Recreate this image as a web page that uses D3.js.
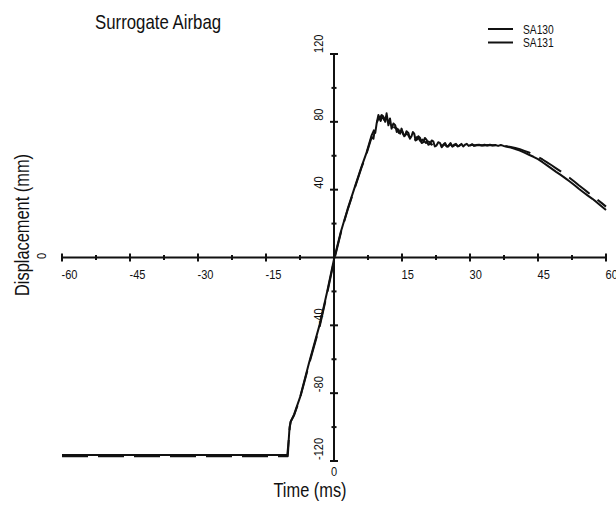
<!DOCTYPE html>
<html>
<head>
<meta charset="utf-8">
<script src="https://cdn.jsdelivr.net/npm/d3@7"></script>
<style>
  body { margin: 0; background: white; }
  text { font-family: "Liberation Sans", Arial, sans-serif; fill: #111; }
</style>
</head>
<body>
<div id="chart-area"></div>
<script>
// *********************
// Data
// *********************

const seriesNames = ["SA130", "SA131"];

// SA130: [time (ms), displacement (mm)]
const sa130 = [
	[-60,-116.5],[-10.3,-116.5],[-10.0,-108],[-9.8,-100],[-9.5,-96.5],[-8.8,-92.5],[-7.5,-82.5],
	[-5.5,-62],[-3.1,-39],[-1.5,-20],[0,-1],[1.5,15],[3,28.5],[4.4,40],[6,53],[7.2,62],[8.3,72],
	[8.8,75],[9.1,73.5],[9.4,79],[9.8,84],[10.1,82],[10.5,84],[10.9,83],[11.3,80],[11.6,85],[12.0,78],
	[12.35,82],[12.7,76],[13.1,79],[13.5,78],[13.85,74],[14.2,75.5],[14.6,73],[14.9,76],[15.3,72.5],
	[15.7,72],[16.0,74.5],[16.4,73.5],[16.75,70],[17.1,71.5],[17.4,74],[17.7,73],[18.0,69],[18.3,69.5],
	[18.6,71.5],[19.0,70.5],[19.35,67.5],[19.7,68],[20.05,70.5],[20.4,69.5],[20.8,66.5],[21.2,67],
	[21.55,69],[21.9,68.5],[22.25,65.5],[22.6,66],[23.0,68],[23.4,67.5],[23.75,65],[24.1,66.5],
	[24.5,67.5],[24.9,65.5],[25.3,66],[25.7,67.5],[26.1,65.5],[26.5,66.5],[26.9,67],[27.3,65.5],
	[27.7,66],[28.1,67],[28.5,65.5],[28.9,66.5],[29.3,67],[29.7,65.8],[30.1,66.3],[30.5,66.8],
	[30.9,65.8],[31.3,66.3],[32,66.5],[32.6,66],[33.2,66.5],[33.8,66],[34.4,66.5],[35,66],[35.6,66.3],
	[36.2,65.8],[36.8,66.3],[37.4,65.8],[38,65.5],[39,64.8],[40,64],[41,63],[42,61.8],[43,60.6],
	[44,59.4],[45,58],[46,56.2],[47,54.3],[48,52.4],[49,50.5],[50,48.7],[51,46.8],[52,44.8],[53,42.7],
	[54,40.5],[55,38.5],[56,36.5],[57,34.6],[58,32.5],[59,30.2],[60,28]
];

// SA131: [time (ms), displacement (mm)]
const sa131 = [
	[-60,-117.2],[-10.2,-117.2],[-9.9,-104],[-9.6,-97],[-8.8,-93],[-7.5,-83],[-5.5,-63],[-3.1,-40],
	[-1.5,-21],[0,-2],[1.5,14.5],[3,28],[4.4,39.5],[6,52.5],[7.2,61.5],[8.3,71],[8.7,70],[9.0,75.5],
	[9.5,80],[9.9,82.5],[10.3,80.5],[10.7,83.5],[11.1,81],[11.5,83],[11.9,80],[12.3,79.5],[12.7,78],
	[13.1,77],[13.5,76.5],[13.9,76],[14.3,73.5],[14.7,74.5],[15.1,74],[15.5,71.5],[15.9,73],[16.3,72.5],
	[16.7,70.5],[17.1,72.5],[17.5,71],[17.9,69.5],[18.3,71],[18.7,70],[19.1,68.5],[19.5,69.5],
	[19.9,68.5],[20.3,67.5],[20.7,68.5],[21.1,68],[21.5,66.5],[21.9,67.5],[22.3,67],[22.7,66],[23.1,67],
	[23.5,66.5],[23.9,65.5],[24.3,66.8],[24.7,66],[25.1,65.3],[25.6,66.8],[26.2,65.5],[26.8,66.5],
	[27.4,65.6],[28,66.6],[28.6,65.8],[29.2,66.6],[29.8,65.9],[30.5,66.5],[31.2,66],[32,66.4],[33,66.1],
	[34,66.4],[35,66.2],[36,66.1],[37,65.9],[38,65.6],[39,65.1],[40,64.6],[41,63.9],[42,62.9],[43,61.9],
	[44,60.7],[45,59.3],[46,57.8],[47,56.1],[48,54.4],[49,52.6],[50,50.8],[51,48.9],[52,46.9],[53,44.8],
	[54,42.6],[55,40.5],[56,38.4],[57,36.4],[58,34.3],[59,32.2],[60,30]
];

// Tick values
const xMajor = [-60, -45, -30, -15, 15, 30, 45, 60];
const xMinor = [-52.5, -37.5, -22.5, -7.5, 7.5, 22.5, 37.5, 52.5];
const yMajor = [-120, -80, -40, 40, 80, 120];
const yMinor = [-100, -60, -20, 20, 60, 100];

// *********************
// Basic setup SVG
// *********************

const width = 616;
const height = 508;

// Narrow look of the original font
const narrow = 0.82;

const svg = d3.select("#chart-area")
	.append("svg")
	.attr("width", width)
	.attr("height", height);

svg.append("rect")
	.attr("width", "100%")
	.attr("height", "100%")
	.attr("fill", "white");

// Helper for condensed text at (tx, ty), optionally rotated
function place(tx, ty, rot) {
	return "translate(" + tx + "," + ty + ")" + (rot ? " rotate(" + rot + ")" : "") + " scale(" + narrow + ",1)";
}

// *********************
// Scales
// *********************

const x = d3.scaleLinear()
	.domain([-60, 60])
	.range([62, 606]);

const y = d3.scaleLinear()
	.domain([-120, 120])
	.range([461, 54]);

// *********************
// Axes (crossing at the origin)
// *********************

const axes = svg.append("g")
	.attr("stroke", "#111")
	.attr("stroke-width", 2);

// X axis line
axes.append("line")
	.attr("x1", x(-60)).attr("x2", x(60))
	.attr("y1", y(0)).attr("y2", y(0));

// Y axis line
axes.append("line")
	.attr("x1", x(0)).attr("x2", x(0))
	.attr("y1", y(-120)).attr("y2", y(120));

// X ticks
axes.selectAll(".x-major")
	.data(xMajor)
	.enter().append("line")
	.attr("x1", d => x(d)).attr("x2", d => x(d))
	.attr("y1", y(0) - 4).attr("y2", y(0) + 4);

axes.selectAll(".x-minor")
	.data(xMinor)
	.enter().append("line")
	.attr("x1", d => x(d)).attr("x2", d => x(d))
	.attr("y1", y(0) - 2.5).attr("y2", y(0) + 2.5);

// Y ticks
axes.selectAll(".y-major")
	.data(yMajor)
	.enter().append("line")
	.attr("x1", x(0) - 4).attr("x2", x(0) + 4)
	.attr("y1", d => y(d)).attr("y2", d => y(d));

axes.selectAll(".y-minor")
	.data(yMinor)
	.enter().append("line")
	.attr("x1", x(0) - 2.5).attr("x2", x(0) + 2.5)
	.attr("y1", d => y(d)).attr("y2", d => y(d));

// X tick labels
svg.selectAll(".x-label")
	.data(xMajor)
	.enter().append("text")
	.attr("transform", d => place(x(d) - 0.5, y(0) + 21))
	.attr("font-size", "13.5px")
	.text(d => d);

// "0" of the time axis sits under the y axis
svg.append("text")
	.attr("transform", place(x(0), 476))
	.attr("font-size", "13.5px")
	.attr("text-anchor", "middle")
	.text("0");

// Y tick labels (rotated)
svg.selectAll(".y-label")
	.data(yMajor)
	.enter().append("text")
	.attr("transform", d => place(x(0) - 11, y(d) - 1, -90))
	.attr("font-size", "13.5px")
	.text(d => d);

// "0" of the displacement axis sits at the left end
svg.append("text")
	.attr("transform", place(46, y(0) + 1.5, -90))
	.attr("font-size", "13.5px")
	.text("0");

// Axis titles
svg.append("text")
	.attr("transform", place(310, 497))
	.attr("font-size", "20px")
	.attr("text-anchor", "middle")
	.text("Time (ms)");

svg.append("text")
	.attr("transform", place(29, 225, -90))
	.attr("font-size", "20px")
	.attr("text-anchor", "middle")
	.text("Displacement (mm)");

// Title
svg.append("text")
	.attr("transform", place(95, 29))
	.attr("font-size", "20.5px")
	.text("Surrogate Airbag");

// *********************
// Lines
// *********************

const line = d3.line()
	.x(d => x(d[0]))
	.y(d => y(d[1]));

svg.append("path")
	.datum(sa130)
	.attr("fill", "none")
	.attr("stroke", "#111")
	.attr("stroke-width", 2)
	.attr("stroke-linejoin", "round")
	.attr("d", line);

svg.append("path")
	.datum(sa131)
	.attr("fill", "none")
	.attr("stroke", "#111")
	.attr("stroke-width", 2)
	.attr("stroke-dasharray", "26,10")
	.attr("stroke-linejoin", "round")
	.attr("d", line);

// *********************
// Legend
// *********************

const legend = svg.append("g")
	.attr("transform", "translate(488,29)");

seriesNames.forEach((name, i) => {
	const row = legend.append("g")
		.attr("transform", "translate(0," + (i * 13.5) + ")");

	row.append("line")
		.attr("x1", 0).attr("x2", 25)
		.attr("stroke", "#111")
		.attr("stroke-width", 2);

	row.append("text")
		.attr("transform", place(35, 4.5))
		.attr("font-size", "12.5px")
		.text(name);
});
</script>
</body>
</html>
